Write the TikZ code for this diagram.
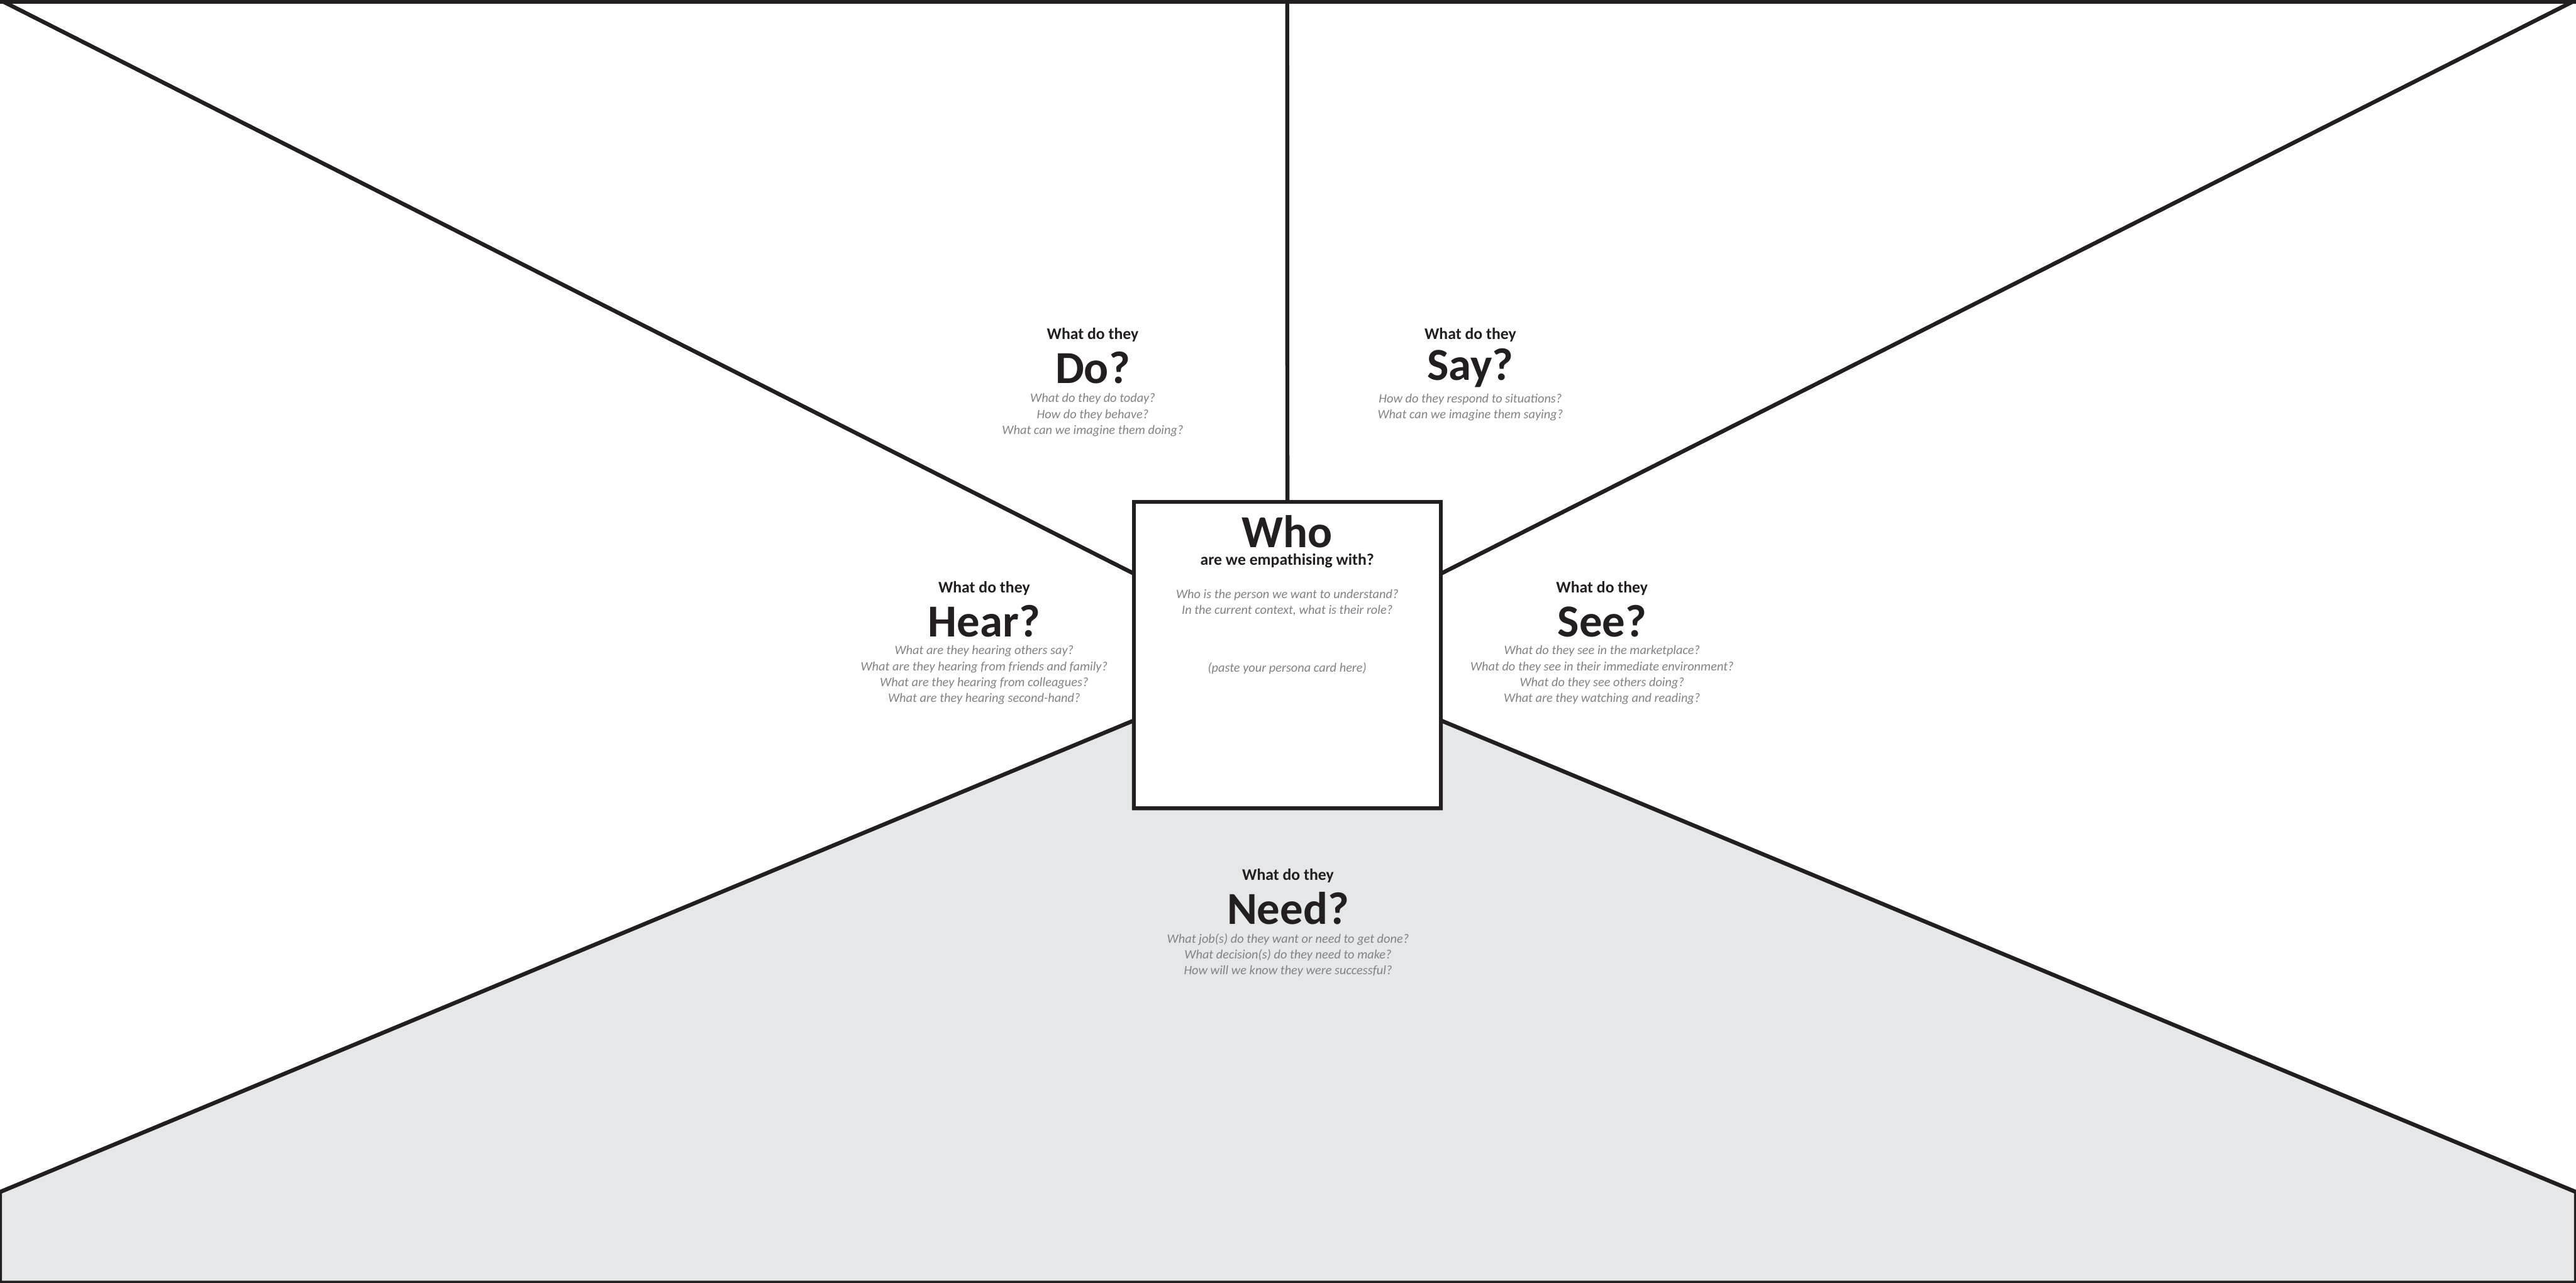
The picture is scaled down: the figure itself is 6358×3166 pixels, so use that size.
\documentclass[tikz,border=0pt]{standalone}
\usepackage{fontspec}
\setmainfont{Carlito}
\definecolor{ink}{HTML}{231F20}
\definecolor{paper}{HTML}{E6E7E8}
\definecolor{hintgrey}{HTML}{808285}
\begin{document}
\begin{tikzpicture}[x=1pt,y=-1pt,
  edge/.style={draw=ink,line width=10pt,line join=miter},
  lead/.style={font=\fontsize{40}{48}\selectfont\bfseries, text=ink, inner sep=0pt},
  big/.style={font=\fontsize{113}{120}\selectfont\bfseries, text=ink, inner sep=0pt},
  qtext/.style={font=\fontsize{31.6}{39}\selectfont\itshape, text=hintgrey, align=center, inner sep=0pt}]
\useasboundingbox (0,0) rectangle (6358,3166);
\clip (0,0) rectangle (6358,3166);
% corner / edge coordinates
\coordinate (TL) at (0,0);
\coordinate (TR) at (6358,0);
\coordinate (TM) at (3177,0);
\coordinate (BLe) at (0,2942);
\coordinate (BRe) at (6358,2942);
\coordinate (BLc) at (0,3166);
\coordinate (BRc) at (6358,3166);
\coordinate (ulh) at (2799,1416);
\coordinate (urh) at (3556,1416);
\coordinate (llh) at (2799,1778);
\coordinate (lrh) at (3556,1778);
\coordinate (lbl) at (2799,1995);
\coordinate (lbr) at (3556,1995);
% grey "need" region
\draw[edge, fill=paper] (BLe) -- (llh) -- (lbl) -- (lbr) -- (lrh) -- (BRe) -- (BRc) -- (BLc) -- cycle;
% top border
\draw[draw=ink, line width=20pt] (TL) -- (TR);
% centre box
\node[draw=ink, fill=white, line width=10pt, minimum width=757pt, minimum height=756pt, inner sep=0pt, outer sep=0pt] (who) at (3177.5,1617) {};
% connectors
\draw[edge] (TL) -- (ulh);
\draw[edge] (TR) -- (urh);
\draw[edge] (TM) -- (who.north);
% Who
\node[big, text depth=0pt] (whot) at (3177,1312) {Who};
\node[lead] (whos) at (3177,1384) {are we empathising with?};
\node[qtext] (whoq) at (3177,1488) {Who is the person we want to understand?\\In the current context, what is their role?};
\node[qtext] (paste) at (3177,1650) {(paste your persona card here)};
% Do
\node[lead] (dol) at (2697,827) {What do they};
\node[big] (dob) at (2697,908) {Do?};
\node[qtext] (doq) at (2697,1024) {What do they do today?\\How do they behave?\\What can we imagine them doing?};
% Say
\node[lead] (sayl) at (3629,827) {What do they};
\node[big] (sayb) at (3629,908) {Say?};
\node[qtext] (sayq) at (3629,1006) {How do they respond to situations?\\What can we imagine them saying?};
% Hear
\node[lead] (hearl) at (2429,1452) {What do they};
\node[big] (hearb) at (2429,1533) {Hear?};
\node[qtext] (hearq) at (2429,1666) {What are they hearing others say?\\What are they hearing from friends and family?\\What are they hearing from colleagues?\\What are they hearing second-hand?};
% See
\node[lead] (seel) at (3954,1452) {What do they};
\node[big] (seeb) at (3954,1533) {See?};
\node[qtext] (seeq) at (3954,1666) {What do they see in the marketplace?\\What do they see in their immediate environment?\\What do they see others doing?\\What are they watching and reading?};
% Need
\node[lead] (needl) at (3179,2161) {What do they};
\node[big] (needb) at (3179,2242) {Need?};
\node[qtext] (needq) at (3179,2357) {What job(s) do they want or need to get done?\\What decision(s) do they need to make?\\How will we know they were successful?};
\end{tikzpicture}
\end{document}
